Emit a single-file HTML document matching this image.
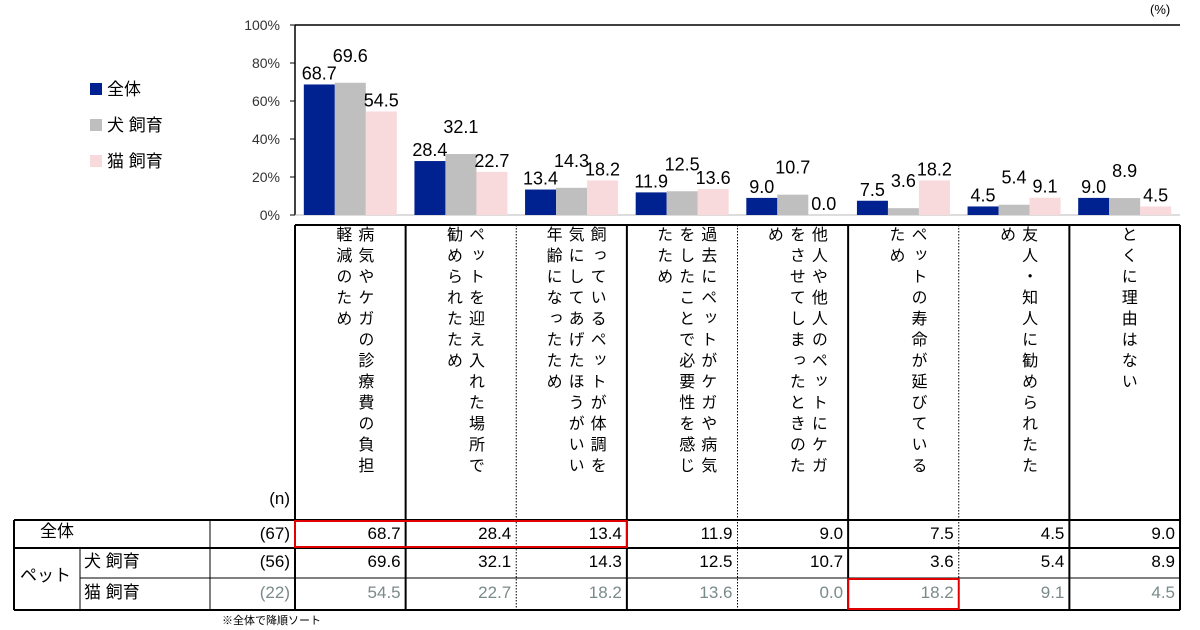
<!DOCTYPE html>
<html><head><meta charset="utf-8"><style>
body{margin:0;background:#fff;width:1200px;height:630px;position:relative;overflow:hidden;font-family:"Liberation Sans","Noto Sans CJK JP",sans-serif;color:#000}
.abs{position:absolute}
.vt{position:absolute;top:226px;writing-mode:vertical-rl;font-size:16px;line-height:22px;letter-spacing:5px;white-space:nowrap}
.cell{position:absolute;font-size:17px;text-align:right;height:28px;line-height:28px}
</style></head><body>
<div class="abs" style="left:1150px;top:2px;font-size:13px">(%)</div>
<div class="abs" style="left:90px;top:72px;font-size:17px;line-height:36px">
 <div><span style="display:inline-block;width:12px;height:12px;background:#002190;margin-right:5px"></span>全体</div>
 <div><span style="display:inline-block;width:12px;height:12px;background:#bfbfbf;margin-right:5px"></span>犬 飼育</div>
 <div><span style="display:inline-block;width:12px;height:12px;background:#f8d9dc;margin-right:5px"></span>猫 飼育</div>
</div>
<svg id="chart" class="abs" style="left:0;top:0" width="1200" height="630"></svg>
<div id="labels"></div>
<div id="table"></div>
<div class="abs" style="left:222px;top:612px;font-size:11px">※全体で降順ソート</div>
<script>
const categories=[["病気やケガの診療費の負担","軽減のため"],["ペットを迎え入れた場所で","勧められたため"],["飼っているペットが体調を","気にしてあげたほうがいい","年齢になったため"],["過去にペットがケガや病気","をしたことで必要性を感じ","たため"],["他人や他人のペットにケガ","をさせてしまったときのた","め"],["ペットの寿命が延びている","ため"],["友人・知人に勧められたた","め"],["とくに理由はない"]];
const totalVals=[68.7,28.4,13.4,11.9,9.0,7.5,4.5,9.0];
const dogVals=[69.6,32.1,14.3,12.5,10.7,3.6,5.4,8.9];
const catVals=[54.5,22.7,18.2,13.6,0.0,18.2,9.1,4.5];
const yTicks=[0,20,40,60,80,100];
const rowNames=["全体","犬 飼育","猫 飼育"];
const rowN=["(67)","(56)","(22)"];
const NS="http://www.w3.org/2000/svg";
const svg=document.getElementById('chart');
const X0=295,X1=1180,Y0=215,Y100=25,colW=(X1-X0)/categories.length;
const y=v=>Y0-(v/100)*(Y0-Y100);
const xc=i=>X0+colW*(i+0.5);
function mk(tag,attrs,parent){const e=document.createElementNS(NS,tag);for(const k in attrs)e.setAttribute(k,attrs[k]);(parent||svg).appendChild(e);return e;}
let ax=mk('line',{x1:X0,y1:Y100,x2:X0,y2:Y0,stroke:'#000','stroke-width':1.5});

let tp=mk('line',{x1:X0,y1:Y100,x2:X1,y2:Y100,stroke:'#000','stroke-width':1.5});

let bl=mk('line',{x1:X0,y1:Y0,x2:X1,y2:Y0,stroke:'#bbb','stroke-width':1});

yTicks.forEach(t=>{
 let tk=mk('line',{x1:X0-5,y1:y(t),x2:X0,y2:y(t),stroke:'#000'});
 
 let tx=mk('text',{x:X0-15,y:y(t)+5,'text-anchor':'end','font-size':14,fill:'#333'});
 tx.textContent=t+'%';
 
});
const series=[[totalVals,'#002190'],[dogVals,'#bfbfbf'],[catVals,'#f8d9dc']];
const bw=31;
categories.forEach((c,i)=>{
 series.forEach((s,j)=>{
  const v=s[0][i],bx=xc(i)-bw*1.5+bw*j;
  let r=mk('rect',{x:bx,y:y(v),width:bw,height:Y0-y(v),fill:s[1]});
  
  let t=mk('text',{x:bx+bw/2,y:y(v)-5-(j==1?16:0),'text-anchor':'middle','font-size':18,fill:'#000'});
  t.textContent=v.toFixed(1);
  
 });
});
const T0=225,R1=520,R2=548,R3=578,R4=610,L=14;
function ln(x1,y1,x2,y2,w,dash,name){let e=mk('line',{x1,y1,x2,y2,stroke:'#000','stroke-width':w});if(dash)e.setAttribute('stroke-dasharray','1.5,1.5');}
ln(X0,T0,X1,T0,2,0,'table-header-top');
ln(L,R1,X1,R1,2,0,'table-row-line');ln(L,R2,X1,R2,2,0,'table-row-line');
ln(80,R3,X1,R3,1,0,'table-row-line');ln(L,R4,X1,R4,2,0,'table-bottom');
ln(L,R1,L,R4,2,0,'table-left');ln(80,R2,80,R4,1,0,'table-col-line');ln(210,R1,210,R4,1,0,'table-col-line');
for(let k=0;k<=categories.length;k++){const xx=X0+colW*k;const edge=(k==0||k==categories.length);const dotted=!edge&&k%2==0;ln(xx,T0,xx,R4,dotted?1:2,dotted?1:0,'table-col-line');}
const lab=document.getElementById('labels');
categories.forEach((c,i)=>{
 const d=document.createElement('div');d.className='vt';
 
 
 d.innerHTML=c.join('<br>');
 lab.appendChild(d);
 d.style.left=(xc(i)-d.offsetWidth/2+2)+'px';
});
const tb=document.getElementById('table');
function cell(txt,l,t,w,align,col,name){const d=document.createElement('div');d.className='cell';d.textContent=txt;d.style.left=l+'px';d.style.top=t+'px';d.style.width=w+'px';d.style.textAlign=align;d.style.color=col;
 
 
 tb.appendChild(d);}
cell('(n)',215,485,75,'right','#000','n-header');
cell('全体',40,R1-2,100,'left','#000','row-label-total');
cell('ペット',20,R2+14,60,'left','#000','row-group-pet');
cell(rowNames[1],84,R2,120,'left','#000','row-label-dog');
cell(rowNames[2],84,R3+1,120,'left','#000','row-label-cat');
const rowsY=[R1,R2,R3+1],rowsC=['#000','#000','#7a8a8a'],vals=[totalVals,dogVals,catVals];
rowsY.forEach((ry,r)=>{
 cell(rowN[r],215,ry,75,'right',rowsC[r],'n-value');
 vals[r].forEach((v,i)=>cell(v.toFixed(1),X0+colW*i,ry,colW-5,'right',rowsC[r],'table-value'));
});
const hl1=mk('rect',{x:X0,y:R1+1,width:colW*3,height:R2-R1-2,fill:'none',stroke:'#e00000','stroke-width':2});

const hl2=mk('rect',{x:X0+colW*5,y:R3+1,width:colW,height:R4-R3-2,fill:'none',stroke:'#e00000','stroke-width':2});

</script>
</body></html>
